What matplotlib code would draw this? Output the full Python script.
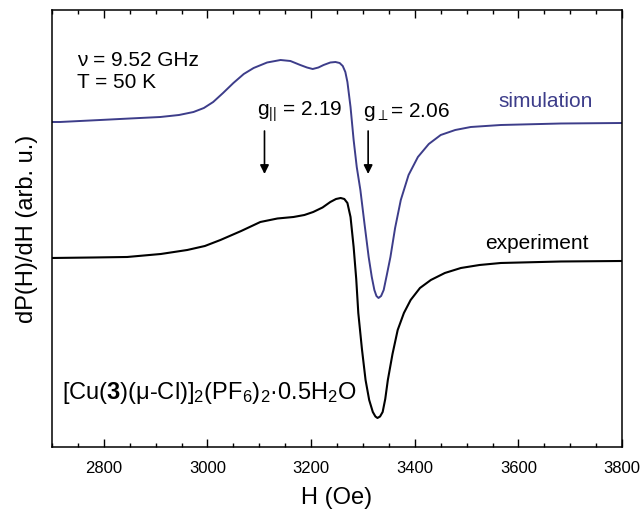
import matplotlib.pyplot as plt
from matplotlib.ticker import MultipleLocator

plt.rcParams['font.family'] = ['Liberation Sans', 'DejaVu Sans']
plt.rcParams['mathtext.fontset'] = 'custom'
plt.rcParams['mathtext.rm'] = 'Liberation Sans'
plt.rcParams['mathtext.bf'] = 'Liberation Sans:bold'
plt.rcParams['mathtext.it'] = 'Liberation Sans:italic'

# field values (Oe) and signal (arb. u.)
sim_H = [2700, 2715, 2793, 2850, 2909, 2945, 2973, 2993, 3011, 3030, 3050, 3070,
         3089, 3115, 3141, 3160, 3179, 3192, 3203, 3214, 3224, 3237, 3247, 3255,
         3261, 3266, 3270, 3276, 3282, 3288, 3295, 3303, 3311, 3317, 3322, 3326,
         3330, 3335, 3340, 3346, 3353, 3362, 3373, 3388, 3406, 3427, 3450, 3478,
         3508, 3566, 3682, 3800]
sim_y = [32.5, 32.5, 32.7, 32.85, 33.0, 33.2, 33.5, 33.9, 34.5, 35.4, 36.4, 37.3,
         37.9, 38.45, 38.7, 38.6, 38.2, 37.95, 37.8, 37.95, 38.2, 38.45, 38.5, 38.4,
         38.1, 37.5, 36.5, 34.0, 30.7, 28.0, 25.7, 22.3, 19.0, 17.0, 15.7, 15.1,
         14.9, 15.1, 15.7, 17.2, 19.0, 21.9, 24.7, 27.2, 29.0, 30.3, 31.2, 31.7,
         32.0, 32.2, 32.35, 32.4]

exp_H = [2700, 2780, 2845, 2910, 2961, 2995, 3025, 3065, 3102, 3135, 3166, 3187,
         3204, 3222, 3237, 3248, 3257, 3264, 3270, 3276, 3282, 3287, 3291, 3298,
         3305, 3312, 3319, 3324, 3328, 3333, 3338, 3343, 3348, 3357, 3367, 3379,
         3392, 3410, 3431, 3458, 3489, 3525, 3566, 3682, 3800]
exp_y = [18.9, 18.95, 19.0, 19.3, 19.7, 20.1, 20.7, 21.6, 22.5, 22.85, 23.0, 23.2,
         23.5, 23.95, 24.5, 24.8, 24.9, 24.8, 24.4, 23.0, 20.0, 16.8, 13.4, 9.8,
         6.7, 4.7, 3.5, 3.05, 2.9, 3.05, 3.5, 4.8, 6.7, 9.3, 11.7, 13.4,
         14.7, 15.9, 16.7, 17.4, 17.9, 18.2, 18.4, 18.55, 18.6]

g_par_H = 3110
g_perp_H = 3310

fig = plt.figure(figsize=(6.42, 5.13), dpi=100)
ax = fig.add_axes([0.081, 0.1287, 0.888, 0.8518])

ax.plot(sim_H, sim_y, color='#3d3d8a', lw=1.4)
ax.plot(exp_H, exp_y, color='black', lw=1.5)

ax.set_xlim(2700, 3800)
ax.set_ylim(0, 43.7)
ax.xaxis.set_major_locator(MultipleLocator(200))
ax.xaxis.set_minor_locator(MultipleLocator(50))
ax.tick_params(axis='x', which='both', direction='in', top=True, labelsize=12, pad=10)
ax.tick_params(axis='x', which='major', length=6, width=1)
ax.tick_params(axis='x', which='minor', length=3, width=1)
ax.set_yticks([])
for s in ax.spines.values():
    s.set_linewidth(1.1)

ax.set_xlabel('H (Oe)', fontsize=17, labelpad=8)
ax.set_ylabel('dP(H)/dH (arb. u.)', fontsize=17, labelpad=10)

# arrows marking g values
for h in (g_par_H, g_perp_H):
    ax.annotate('', xy=(h, 27.3), xytext=(h, 31.6),
                arrowprops=dict(arrowstyle='-|>', color='black', lw=1.2,
                                mutation_scale=13, shrinkA=0, shrinkB=0))

ax.text(3096, 33.5, r'g$_{||}$ = 2.19', fontsize=15, va='center')
ax.text(3300, 33.5, r'g$_{\perp}$= 2.06', fontsize=15, va='center')
ax.text(2748, 38.7, r'ν = 9.52 GHz', fontsize=15, va='center')
ax.text(2748, 36.4, 'T = 50 K', fontsize=15, va='center')
ax.text(3561, 34.5, 'simulation', fontsize=15, color='#3d3d8a', va='center')
ax.text(3536, 20.3, 'experiment', fontsize=15, color='black', va='center')
ax.text(2719, 5.4, r'[Cu($\mathbf{3}$)(μ-Cl)]$_2$(PF$_6$)$_2$·0.5H$_2$O',
        fontsize=17, va='center')

fig.savefig('out.png', dpi=100)
